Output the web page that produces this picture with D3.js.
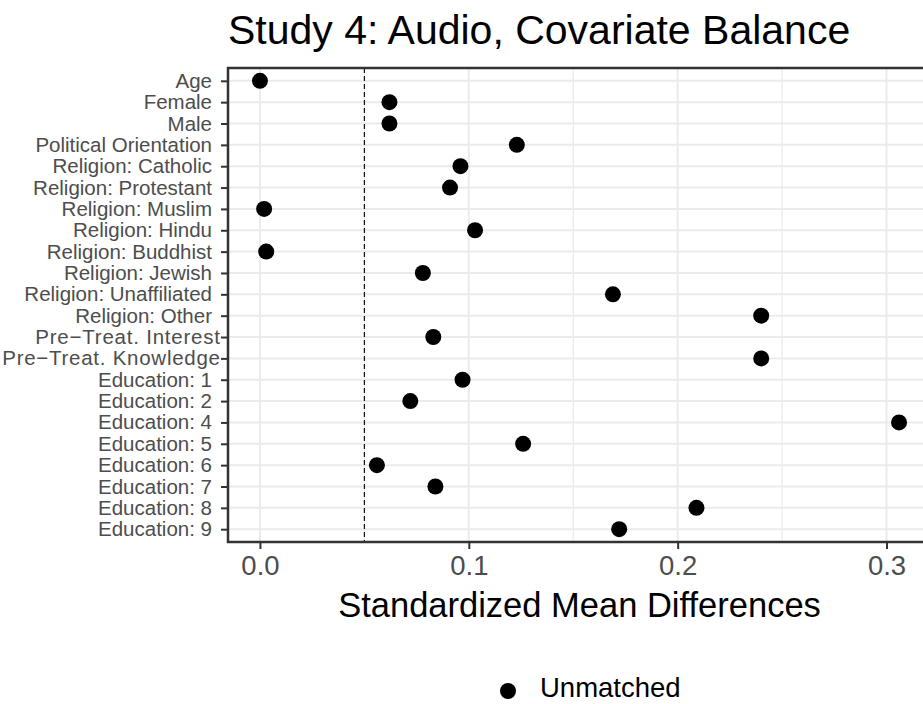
<!DOCTYPE html>
<html>
<head>
<meta charset="utf-8">
<script src="https://cdn.jsdelivr.net/npm/d3@7"></script>
<style>
  body { margin: 0; background: #fff; }
  text { font-family: "Liberation Sans", Arial, sans-serif; }
</style>
</head>
<body>
<div id="main"></div>
<script>
const ctx = { w: 923, h: 704 };
const margin = { top: 68, left: 228, bottom: 162, right: -8 };

// covariates, top to bottom
const covariates = ["Age", "Female", "Male", "Political Orientation",
  "Religion: Catholic", "Religion: Protestant", "Religion: Muslim", "Religion: Hindu",
  "Religion: Buddhist", "Religion: Jewish", "Religion: Unaffiliated", "Religion: Other",
  "Pre\u2212Treat. Interest", "Pre\u2212Treat. Knowledge",
  "Education: 1", "Education: 2", "Education: 4", "Education: 5", "Education: 6",
  "Education: 7", "Education: 8", "Education: 9"];
// standardized mean differences (unmatched)
const smdUnmatched = [0.000, 0.062, 0.062, 0.123, 0.096, 0.091, 0.002, 0.103,
  0.003, 0.078, 0.169, 0.240, 0.083, 0.240, 0.097, 0.072, 0.306, 0.126,
  0.056, 0.084, 0.209, 0.172];
const xTicks = [0.0, 0.1, 0.2, 0.3];
const xMinor = [0.05, 0.15, 0.25];
const threshold = 0.05;
const legendLabel = "Unmatched";

function createViz() {
  const svg = d3.select("#main").append("svg")
    .attr("width", ctx.w).attr("height", ctx.h);

  const x0 = margin.left, x1 = ctx.w - margin.right;
  const y0 = margin.top, y1 = ctx.h - margin.bottom;

  // ggplot-ish 5% expansion
  const lo = d3.min(smdUnmatched), hi = d3.max(smdUnmatched);
  const pad = (hi - lo) * 0.05;
  const x = d3.scaleLinear().domain([lo - pad, hi + pad]).range([x0, x1]);
  const y = d3.scalePoint().domain(covariates).range([y0, y1]).padding(0.6);

  // grid
  const grid = svg.append("g");
  grid.selectAll(".hg").data(covariates).enter().append("line")
    .attr("x1", x0).attr("x2", x1)
    .attr("y1", d => y(d)).attr("y2", d => y(d))
    .attr("stroke", "#ebebeb").attr("stroke-width", 2);
  grid.selectAll(".vmin").data(xMinor).enter().append("line")
    .attr("x1", d => x(d)).attr("x2", d => x(d))
    .attr("y1", y0).attr("y2", y1)
    .attr("stroke", "#ebebeb").attr("stroke-width", 1.2);
  grid.selectAll(".vmaj").data(xTicks).enter().append("line")
    .attr("x1", d => x(d)).attr("x2", d => x(d))
    .attr("y1", y0).attr("y2", y1)
    .attr("stroke", "#ebebeb").attr("stroke-width", 2);

  // threshold line
  svg.append("line")
    .attr("x1", x(threshold)).attr("x2", x(threshold))
    .attr("y1", y0).attr("y2", y1)
    .attr("stroke", "#000").attr("stroke-width", 1.1)
    .attr("stroke-dasharray", "5,3");

  // points
  svg.selectAll(".pt").data(covariates).enter().append("circle")
    .attr("cx", (d, i) => x(smdUnmatched[i]))
    .attr("cy", d => y(d))
    .attr("r", 8)
    .attr("fill", "#000");

  // panel border
  svg.append("rect")
    .attr("x", x0).attr("y", y0)
    .attr("width", x1 - x0).attr("height", y1 - y0)
    .attr("fill", "none").attr("stroke", "#333").attr("stroke-width", 2.5);

  // axes
  const yAxis = svg.append("g")
    .attr("transform", `translate(${x0},0)`)
    .call(d3.axisLeft(y).tickSize(7).tickPadding(9));
  yAxis.select(".domain").remove();
  yAxis.selectAll(".tick line").attr("stroke", "#333").attr("stroke-width", 2);
  yAxis.selectAll(".tick text")
    .attr("fill", "#4d4d4d")
    .style("font-size", "20.5px");
  // the minus labels run a bit wider and spill onto the ticks in the original
  yAxis.selectAll(".tick text")
    .filter(d => d.includes("\u2212"))
    .attr("dx", 8)
    .each(function() {
      const w = this.getComputedTextLength();
      d3.select(this).attr("textLength", w + 14).attr("lengthAdjust", "spacing");
    });

  const xAxis = svg.append("g")
    .attr("transform", `translate(0,${y1})`)
    .call(d3.axisBottom(x).tickValues(xTicks).tickFormat(d3.format(".1f"))
      .tickSize(7).tickPadding(6));
  xAxis.select(".domain").remove();
  xAxis.selectAll(".tick line").attr("stroke", "#333").attr("stroke-width", 2);
  xAxis.selectAll(".tick text")
    .attr("fill", "#4d4d4d")
    .style("font-size", "27.5px");

  // titles
  svg.append("text")
    .attr("x", x0).attr("y", 44)
    .style("font-size", "41px")
    .attr("fill", "#000")
    .text("Study 4: Audio, Covariate Balance");

  svg.append("text")
    .attr("x", (x0 + x1) / 2).attr("y", 617)
    .attr("text-anchor", "middle")
    .style("font-size", "34.5px")
    .attr("fill", "#000")
    .text("Standardized Mean Differences");

  // legend
  svg.append("circle")
    .attr("cx", 508).attr("cy", 691).attr("r", 8).attr("fill", "#000");
  svg.append("text")
    .attr("x", 540).attr("y", 697)
    .style("font-size", "27.5px")
    .attr("fill", "#000")
    .text(legendLabel);
}

createViz();
</script>
</body>
</html>
